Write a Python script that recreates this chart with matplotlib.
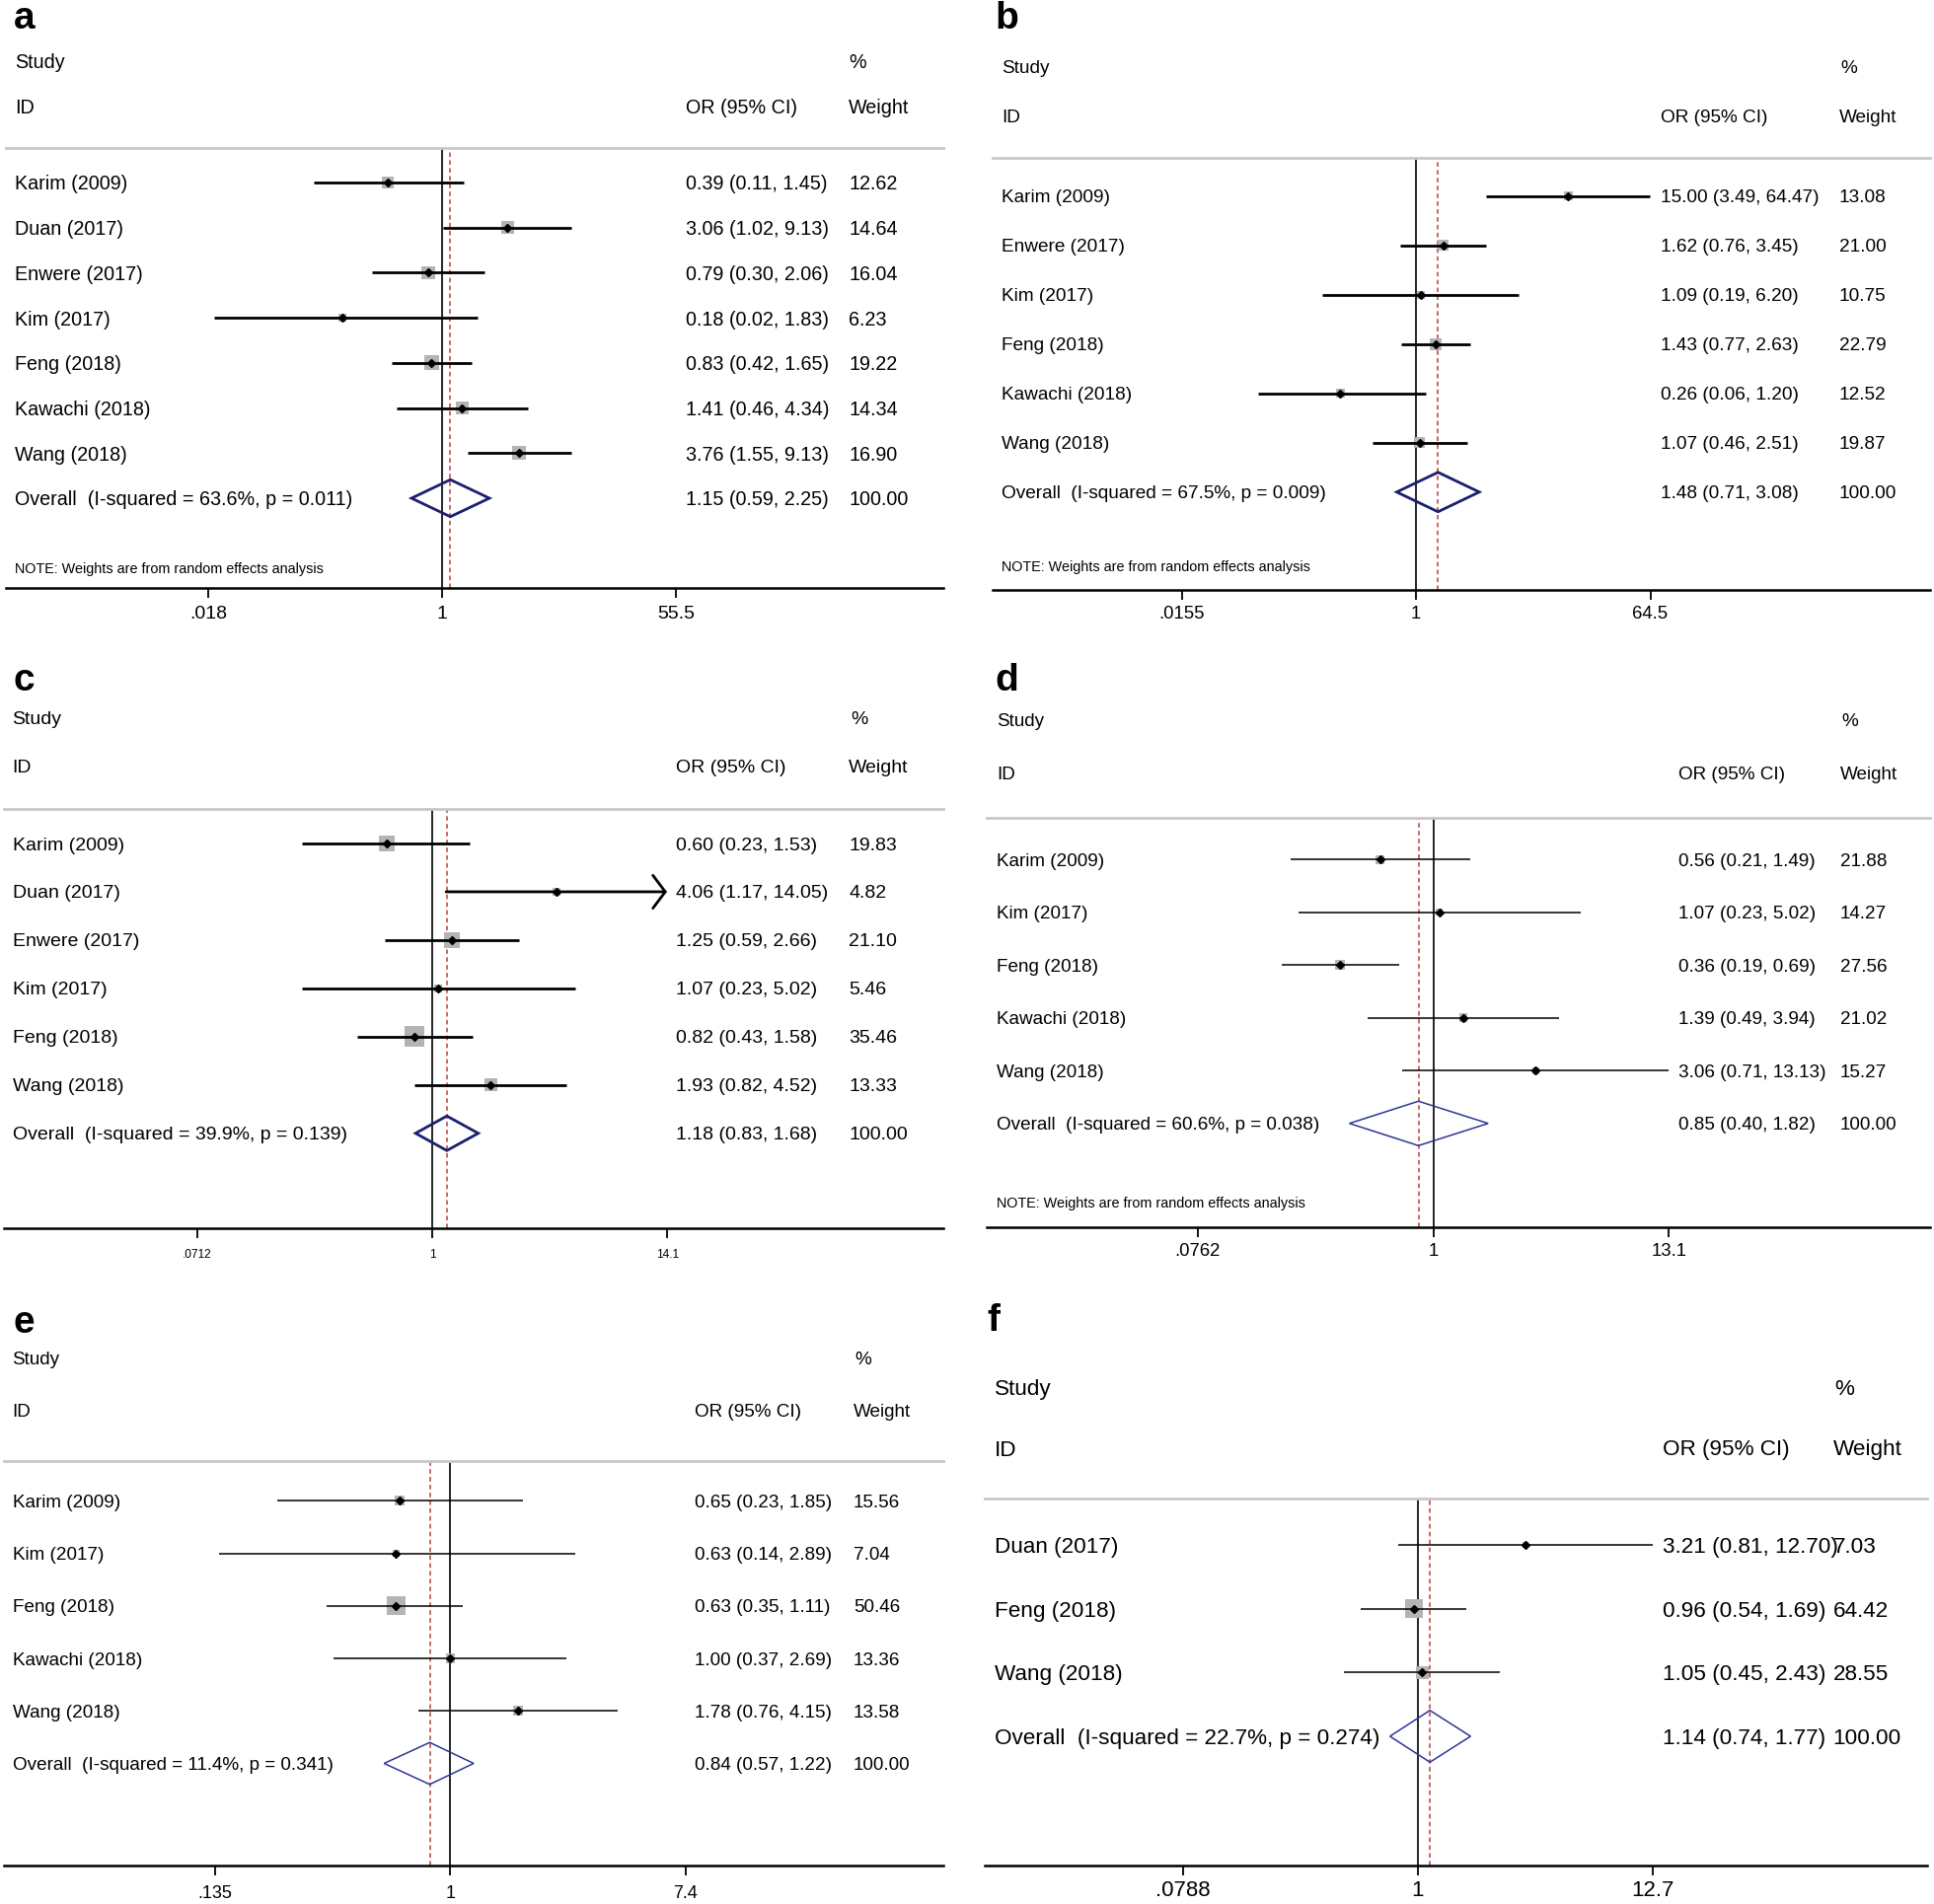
import numpy as np
import matplotlib
matplotlib.use('Agg')
import matplotlib.pyplot as plt
from matplotlib.patches import Polygon
from matplotlib import transforms
from matplotlib.ticker import NullLocator

plt.rcParams['font.family'] = ['Liberation Sans', 'DejaVu Sans']

# ---------------- data ----------------
a_study = ["Karim (2009)", "Duan (2017)", "Enwere (2017)", "Kim (2017)", "Feng (2018)", "Kawachi (2018)", "Wang (2018)"]
a_or = [0.39, 3.06, 0.79, 0.18, 0.83, 1.41, 3.76]
a_lo = [0.11, 1.02, 0.30, 0.02, 0.42, 0.46, 1.55]
a_hi = [1.45, 9.13, 2.06, 1.83, 1.65, 4.34, 9.13]
a_wt = [12.62, 14.64, 16.04, 6.23, 19.22, 14.34, 16.90]
a_overall = [1.15, 0.59, 2.25]
a_i2, a_p = 63.6, 0.011
a_ticks = [0.018, 1, 55.5]
a_ticklabels = [".018", "1", "55.5"]
a_arrow = [False] * 7

b_study = ["Karim (2009)", "Enwere (2017)", "Kim (2017)", "Feng (2018)", "Kawachi (2018)", "Wang (2018)"]
b_or = [15.00, 1.62, 1.09, 1.43, 0.26, 1.07]
b_lo = [3.49, 0.76, 0.19, 0.77, 0.06, 0.46]
b_hi = [64.47, 3.45, 6.20, 2.63, 1.20, 2.51]
b_wt = [13.08, 21.00, 10.75, 22.79, 12.52, 19.87]
b_overall = [1.48, 0.71, 3.08]
b_i2, b_p = 67.5, 0.009
b_ticks = [0.0155, 1, 64.5]
b_ticklabels = [".0155", "1", "64.5"]
b_arrow = [False] * 6

c_study = ["Karim (2009)", "Duan (2017)", "Enwere (2017)", "Kim (2017)", "Feng (2018)", "Wang (2018)"]
c_or = [0.60, 4.06, 1.25, 1.07, 0.82, 1.93]
c_lo = [0.23, 1.17, 0.59, 0.23, 0.43, 0.82]
c_hi = [1.53, 14.05, 2.66, 5.02, 1.58, 4.52]
c_wt = [19.83, 4.82, 21.10, 5.46, 35.46, 13.33]
c_overall = [1.18, 0.83, 1.68]
c_i2, c_p = 39.9, 0.139
c_ticks = [0.0712, 1, 14.1]
c_ticklabels = [".0712", "1", "14.1"]
c_arrow = [False, True, False, False, False, False]

d_study = ["Karim (2009)", "Kim (2017)", "Feng (2018)", "Kawachi (2018)", "Wang (2018)"]
d_or = [0.56, 1.07, 0.36, 1.39, 3.06]
d_lo = [0.21, 0.23, 0.19, 0.49, 0.71]
d_hi = [1.49, 5.02, 0.69, 3.94, 13.13]
d_wt = [21.88, 14.27, 27.56, 21.02, 15.27]
d_overall = [0.85, 0.40, 1.82]
d_i2, d_p = 60.6, 0.038
d_ticks = [0.0762, 1, 13.1]
d_ticklabels = [".0762", "1", "13.1"]
d_arrow = [False] * 5

e_study = ["Karim (2009)", "Kim (2017)", "Feng (2018)", "Kawachi (2018)", "Wang (2018)"]
e_or = [0.65, 0.63, 0.63, 1.00, 1.78]
e_lo = [0.23, 0.14, 0.35, 0.37, 0.76]
e_hi = [1.85, 2.89, 1.11, 2.69, 4.15]
e_wt = [15.56, 7.04, 50.46, 13.36, 13.58]
e_overall = [0.84, 0.57, 1.22]
e_i2, e_p = 11.4, 0.341
e_ticks = [0.135, 1, 7.4]
e_ticklabels = [".135", "1", "7.4"]
e_arrow = [False] * 5

f_study = ["Duan (2017)", "Feng (2018)", "Wang (2018)"]
f_or = [3.21, 0.96, 1.05]
f_lo = [0.81, 0.54, 0.45]
f_hi = [12.70, 1.69, 2.43]
f_wt = [7.03, 64.42, 28.55]
f_overall = [1.14, 0.74, 1.77]
f_i2, f_p = 22.7, 0.274
f_ticks = [0.0788, 1, 12.7]
f_ticklabels = [".0788", "1", "12.7"]
f_arrow = [False] * 3

NOTE = "NOTE: Weights are from random effects analysis"

# ---------------- layout helpers (reference pixel units, 0.8 scale) ----------------
W, H = 1960, 1930
S = 1.25

fig = plt.figure(figsize=(W / 100, H / 100), dpi=100)


def fx(px):
    return px * S / W


def fy(py):
    return 1 - py * S / H


def panel(letter, study, orr, lo, hi, wt, ov, i2, p, ticks, ticklabels, arrow, L):
    left, right, sep, axis = L['left'], L['right'], L['sep'], L['axis']
    ax = fig.add_axes([fx(left), fy(axis), fx(right) - fx(left), fy(sep) - fy(axis)])
    ax.patch.set_alpha(0)
    k = (L['t_hi'] - L['t_lo']) / (np.log(ticks[2]) - np.log(ticks[0]))
    c1 = L['t_lo'] - k * np.log(ticks[0])
    ax.set_xscale('log')
    ax.set_xlim(np.exp((left - c1) / k), np.exp((right - c1) / k))
    n = len(study)
    dy = (L['row_last'] - L['row0']) / n
    ax.set_ylim((axis - L['row0']) / dy, (sep - L['row0']) / dy)
    rows = np.arange(n)

    lw = L['lw']
    ax.axvline(1, color='black', lw=1.2, zorder=1)
    ax.axvline(ov[0], color='#b8403c', lw=1.1, ls=(0, (3, 2.2)), zorder=1)

    sizes = (L['ksq'] * 0.9 * np.sqrt(np.array(wt))) ** 2
    ax.scatter(orr, rows, marker='s', s=sizes, color='#b4b4b4', linewidths=0, zorder=2)
    for i in range(n):
        if arrow[i]:
            ax.annotate('', xy=(hi[i], i), xytext=(lo[i], i),
                        arrowprops=dict(arrowstyle='->,head_length=0.45,head_width=0.6',
                                        lw=lw, color='black', shrinkA=0, shrinkB=0,
                                        mutation_scale=20), zorder=3)
        else:
            ax.plot([lo[i], hi[i]], [i, i], color='black', lw=lw, zorder=3,
                    solid_capstyle='butt')
    ax.plot(orr, rows, ls='none', marker='D', ms=3.6, color='black', zorder=4)

    h = L['dh'] / dy
    dia = Polygon([(ov[1], n), (ov[0], n - h), (ov[2], n), (ov[0], n + h)], closed=True,
                  fill=False, edgecolor=L['dcol'], lw=L['dlw'], zorder=4)
    ax.add_patch(dia)

    for s in ['left', 'right']:
        ax.spines[s].set_visible(False)
    ax.spines['top'].set_color('#c8c8c8')
    ax.spines['top'].set_linewidth(2.0)
    ax.spines['bottom'].set_color('black')
    ax.spines['bottom'].set_linewidth(1.8)
    ax.set_yticks([])
    ax.set_xticks(ticks)
    ax.set_xticklabels(ticklabels)
    ax.xaxis.set_minor_locator(NullLocator())
    tfs = L['tfs']
    pad = (L['lab_y'] - axis) * S * 0.72 - 7 - 0.45 * tfs
    ax.tick_params(axis='x', length=7, width=1.3, labelsize=tfs, pad=pad, colors='black')

    fs = L['fs']
    va = 'center_baseline'
    tr = transforms.blended_transform_factory(fig.transFigure, ax.transData)
    for i in range(n):
        ax.text(fx(L['tx']), i, study[i], transform=tr, va=va, ha='left', fontsize=fs)
        ax.text(fx(L['or_x']), i, f"{orr[i]:.2f} ({lo[i]:.2f}, {hi[i]:.2f})", transform=tr,
                va=va, ha='left', fontsize=fs)
        ax.text(fx(L['wt_x']), i, f"{wt[i]:.2f}", transform=tr, va=va, ha='left', fontsize=fs)
    ax.text(fx(L['tx']), n, f"Overall  (I-squared = {i2:.1f}%, p = {p:.3f})", transform=tr,
            va=va, ha='left', fontsize=fs)
    ax.text(fx(L['or_x']), n, f"{ov[0]:.2f} ({ov[1]:.2f}, {ov[2]:.2f})", transform=tr,
            va=va, ha='left', fontsize=fs)
    ax.text(fx(L['wt_x']), n, "100.00", transform=tr, va=va, ha='left', fontsize=fs)
    if L.get('note_y') is not None:
        ax.text(fx(L['tx']), (L['note_y'] - L['row0']) / dy, NOTE, transform=tr,
                va=va, ha='left', fontsize=10.4)

    # headers
    fig.text(fx(L['tx']), fy(L['study_y']), "Study", va=va, ha='left', fontsize=fs)
    fig.text(fx(L['tx']), fy(L['id_y']), "ID", va=va, ha='left', fontsize=fs)
    fig.text(fx(L['pct_x']), fy(L['study_y']), "%", va=va, ha='left', fontsize=fs)
    fig.text(fx(L['or_x']), fy(L['id_y']), "OR (95% CI)", va=va, ha='left', fontsize=fs)
    fig.text(fx(L['wt_x']), fy(L['id_y']), "Weight", va=va, ha='left', fontsize=fs)
    fig.text(fx(L['lx']), fy(L['ly']), letter, va='center', ha='left', fontsize=28,
             fontweight='bold')
    return ax


thick = dict(lw=2.0, dcol='#1b1f6e', dlw=2.0)
thin = dict(lw=1.1, dcol='#2e3596', dlw=1.1)

La = dict(left=5, right=765, sep=120, axis=477, row0=148, row_last=404, t_lo=169, t_hi=548,
          lab_y=498, lx=11, ly=15, tx=12, study_y=49, id_y=86, pct_x=688, or_x=556, wt_x=688,
          note_y=460, fs=14.2, tfs=14, ksq=2.7, dh=15, **thick)
Lb = dict(left=805, right=1565, sep=128, axis=478, row0=159, row_last=399, t_lo=958, t_hi=1338,
          lab_y=498, lx=807, ly=15, tx=812, study_y=54, id_y=94, pct_x=1492, or_x=1346, wt_x=1491,
          note_y=459, fs=13.7, tfs=13.3, ksq=2.0, dh=16, **thick)
Lc = dict(left=3, right=765, sep=656, axis=996, row0=684, row_last=919, t_lo=160, t_hi=541,
          lab_y=1017, lx=11, ly=552, tx=10, study_y=582, id_y=621, pct_x=690, or_x=548, wt_x=688,
          note_y=None, fs=14, tfs=8.6, ksq=2.8, dh=14, **thick)
Ld = dict(left=800, right=1565, sep=663, axis=995, row0=697, row_last=911, t_lo=971, t_hi=1353,
          lab_y=1015, lx=807, ly=552, tx=808, study_y=584, id_y=627, pct_x=1493, or_x=1361, wt_x=1492,
          note_y=975, fs=13.6, tfs=13.3, ksq=1.5, dh=18, **thin)
Le = dict(left=3, right=765, sep=1185, axis=1513, row0=1217, row_last=1430, t_lo=174, t_hi=556,
          lab_y=1535, lx=11, ly=1073, tx=10, study_y=1101, id_y=1144, pct_x=693, or_x=563, wt_x=692,
          note_y=None, fs=13.6, tfs=13, ksq=2.1, dh=17, **thin)
Lf = dict(left=798, right=1562, sep=1215, axis=1513, row0=1253, row_last=1408, t_lo=959, t_hi=1340,
          lab_y=1533, lx=800, ly=1071, tx=806, study_y=1125, id_y=1174, pct_x=1487, or_x=1348, wt_x=1486,
          note_y=None, fs=16.2, tfs=16, ksq=1.87, dh=21, **thin)

panel("a", a_study, a_or, a_lo, a_hi, a_wt, a_overall, a_i2, a_p, a_ticks, a_ticklabels, a_arrow, La)
panel("b", b_study, b_or, b_lo, b_hi, b_wt, b_overall, b_i2, b_p, b_ticks, b_ticklabels, b_arrow, Lb)
panel("c", c_study, c_or, c_lo, c_hi, c_wt, c_overall, c_i2, c_p, c_ticks, c_ticklabels, c_arrow, Lc)
panel("d", d_study, d_or, d_lo, d_hi, d_wt, d_overall, d_i2, d_p, d_ticks, d_ticklabels, d_arrow, Ld)
panel("e", e_study, e_or, e_lo, e_hi, e_wt, e_overall, e_i2, e_p, e_ticks, e_ticklabels, e_arrow, Le)
panel("f", f_study, f_or, f_lo, f_hi, f_wt, f_overall, f_i2, f_p, f_ticks, f_ticklabels, f_arrow, Lf)

fig.savefig("out.png", dpi=100, facecolor='white')
